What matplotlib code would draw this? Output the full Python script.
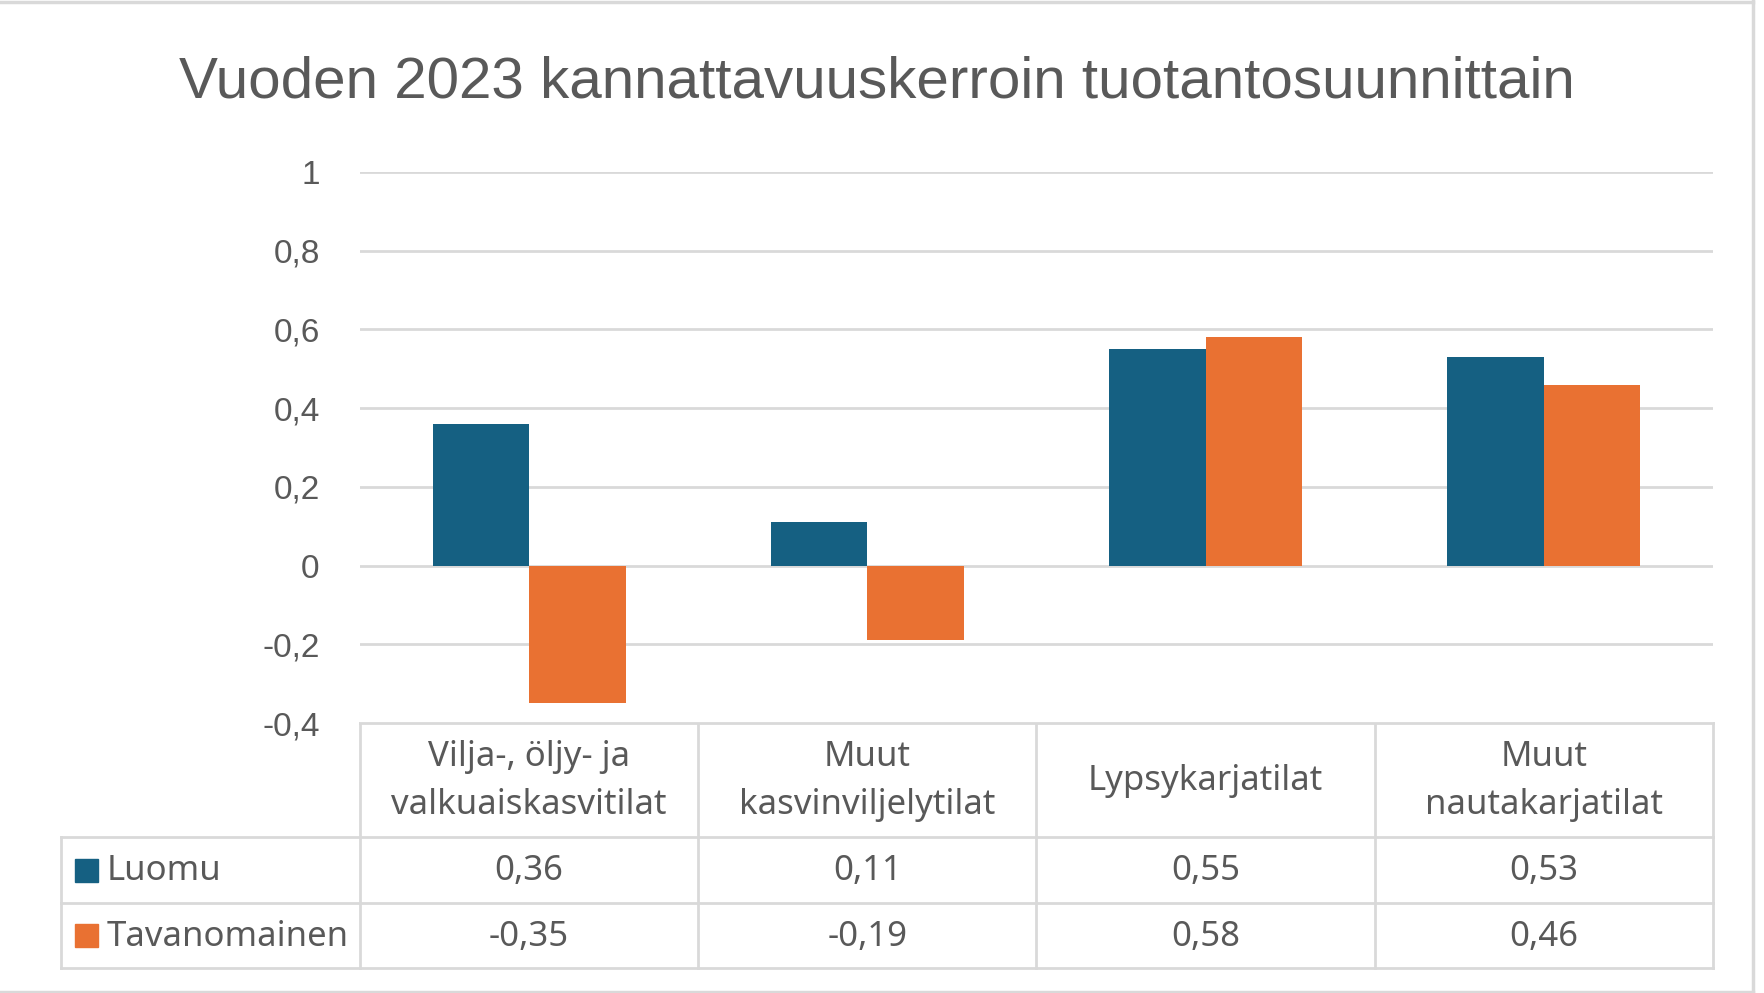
import matplotlib
matplotlib.use("Agg")
import matplotlib.pyplot as plt
from matplotlib import font_manager
import numpy as np

# data
categories = ["Vilja-, öljy- ja\nvalkuaiskasvitilat", "Muut\nkasvinviljelytilat",
              "Lypsykarjatilat", "Muut\nnautakarjatilat"]
series_names = ["Luomu", "Tavanomainen"]
luomu = [0.36, 0.11, 0.55, 0.53]
tavanomainen = [-0.35, -0.19, 0.58, 0.46]
yticks = [-0.4, -0.2, 0, 0.2, 0.4, 0.6, 0.8, 1]
title = "Vuoden 2023 kannattavuuskerroin tuotantosuunnittain"

colors = ["#156082", "#E97132"]
text_col = "#595959"
line_col = "#d9d9d9"

installed = set(f.name for f in font_manager.fontManager.ttflist)
narrow = "Liberation Sans Narrow" if "Liberation Sans Narrow" in installed else "Liberation Sans"
body = "Liberation Sans"
table_font = "Noto Sans"

W, H = 1765, 993
fig = plt.figure(figsize=(W / 100, H / 100), dpi=100)

# background axes in pixel coordinates for the table, title and frame
bg = fig.add_axes([0, 0, 1, 1])
bg.set_xlim(0, W)
bg.set_ylim(H, 0)
bg.axis("off")

# chart area
left, right, top, bottom = 360, 1713, 172, 723
ax = fig.add_axes([left / W, 1 - bottom / H, (right - left) / W, (bottom - top) / H])
n = len(categories)
x = np.arange(n)
w = 0.285
ax.bar(x - w / 2, luomu, w, color=colors[0], zorder=3)
ax.bar(x + w / 2, tavanomainen, w, color=colors[1], zorder=3)
ax.set_xlim(-0.5, n - 0.5)
ax.set_ylim(-0.4, 1)
ax.set_yticks(yticks)
ax.set_yticklabels([("%g" % v).replace(".", ",") for v in yticks],
                   fontsize=24, color=text_col, family=body)
ax.tick_params(axis="y", length=0, pad=29)
ax.set_xticks([])
ax.yaxis.grid(True, color=line_col, linewidth=2)
ax.set_axisbelow(True)
for s in ax.spines.values():
    s.set_visible(False)

# title
bg.text(877, 97, title, ha="center", va="baseline", fontsize=42,
        color=text_col, family=narrow)

# data table
col_edges = [left + i * (right - left) / n for i in range(n + 1)]
tab_left = 61
row_edges = [723, 837, 903, 968]
lw = 2
# horizontal lines
bg.plot([left, right], [row_edges[0]] * 2, color=line_col, lw=lw)
for y in row_edges[1:]:
    bg.plot([tab_left, right], [y, y], color=line_col, lw=lw)
# vertical lines
bg.plot([tab_left, tab_left], [row_edges[1], row_edges[3]], color=line_col, lw=lw)
for xe in col_edges:
    bg.plot([xe, xe], [row_edges[0], row_edges[3]], color=line_col, lw=lw)

for i, cat in enumerate(categories):
    cx = (col_edges[i] + col_edges[i + 1]) / 2
    bg.text(cx, (row_edges[0] + row_edges[1]) / 2 + 1, cat, ha="center", va="center",
            fontsize=25, color=text_col, family=table_font, linespacing=1.52)
    for r, vals in enumerate([luomu, tavanomainen]):
        cy = (row_edges[r + 1] + row_edges[r + 2]) / 2 + 1
        bg.text(cx, cy, ("%.2f" % vals[i]).replace(".", ","), ha="center", va="center",
                fontsize=25, color=text_col, family=table_font)

for r, name in enumerate(series_names):
    cy = (row_edges[r + 1] + row_edges[r + 2]) / 2
    bg.add_patch(plt.Rectangle((75, cy - 11.5), 23, 23, color=colors[r]))
    bg.text(107, cy + 1, name, ha="left", va="center", fontsize=25,
            color=text_col, family=table_font)

# chart frame
bg.plot([0, 1753], [1.5, 1.5], color=line_col, lw=2.5)
bg.plot([1753, 1753], [0, 991.5], color=line_col, lw=2.5)
bg.plot([0, 1753], [991.5, 991.5], color=line_col, lw=2.5)

fig.savefig("out.png", dpi=100)
